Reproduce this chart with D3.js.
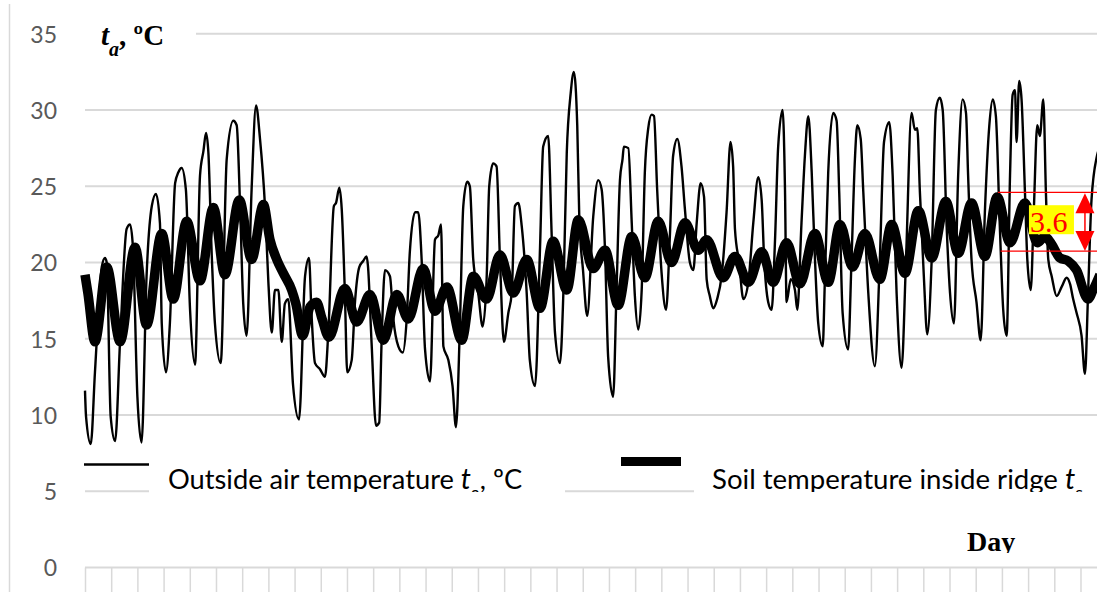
<!DOCTYPE html>
<html><head><meta charset="utf-8">
<script src="https://cdn.jsdelivr.net/npm/d3@7"></script>
<style>html,body{margin:0;padding:0;background:#fff;} svg{display:block}</style>
</head><body><svg id="chart" width="1097" height="592"></svg>
<script>
// ---- data (days since start, °C) ----
const airDays = [0.00,0.04,0.22,0.38,0.64,0.76,0.83,0.98,1.15,1.34,1.59,1.72,1.83,2.00,2.16,2.35,2.55,2.71,2.86,2.93,3.09,3.24,3.44,3.56,3.69,3.85,4.01,4.20,4.39,4.52,4.62,4.71,4.84,4.96,5.18,5.41,5.66,5.79,5.92,6.04,6.17,6.36,6.53,6.68,6.87,7.00,7.13,7.25,7.38,7.51,7.63,7.76,7.94,8.17,8.40,8.55,8.65,8.78,8.97,9.16,9.29,9.50,9.58,9.71,9.80,9.92,10.01,10.18,10.31,10.47,10.62,10.75,10.80,10.94,11.11,11.23,11.32,11.45,11.64,11.77,11.96,12.13,12.28,12.40,12.60,12.72,12.85,12.98,13.17,13.36,13.49,13.59,13.68,13.87,14.03,14.16,14.31,14.44,14.59,14.69,14.82,15.01,15.18,15.33,15.43,15.58,15.71,15.84,15.99,16.16,16.29,16.41,16.54,16.67,16.86,16.98,17.18,17.37,17.49,17.68,17.81,17.94,18.13,18.26,18.39,18.54,18.66,18.79,18.87,19.01,19.17,19.40,19.59,19.72,19.85,19.97,20.16,20.29,20.42,20.52,20.57,20.74,20.87,20.99,21.12,21.25,21.37,21.50,21.63,21.72,21.84,22.01,22.18,22.33,22.45,22.61,22.77,22.90,23.09,23.22,23.35,23.50,23.63,23.73,23.85,23.98,24.13,24.30,24.49,24.64,24.74,24.81,24.97,25.13,25.32,25.51,25.70,25.83,25.92,26.08,26.21,26.34,26.46,26.63,26.72,26.78,26.94,27.10,27.19,27.35,27.48,27.61,27.74,27.86,27.99,28.16,28.24,28.37,28.56,28.69,28.79,28.92,29.13,29.26,29.39,29.48,29.61,29.71,29.90,30.15,30.34,30.50,30.70,30.83,30.98,31.17,31.34,31.55,31.68,31.77,31.87,32.02,32.15,32.32,32.48,32.63,32.74,32.89,33.02,33.17,33.33,33.50,33.63,33.71,33.84,34.03,34.19,34.35,34.52,34.65,34.77,34.92,35.05,35.18,35.31,35.41,35.50,35.56,35.66,35.75,35.88,35.97,36.10,36.22,36.35,36.45,36.58,36.68,36.77,36.90,37.09,37.28,37.47,37.60,37.72,37.85,38.04,38.17,38.29,38.42,38.63,38.74];
const airTemps = [11.6,9.9,8.1,12.8,19.7,20.3,20.0,9.9,8.3,14.9,22.2,22.5,21.0,11.2,8.2,19.1,23.7,24.5,22.6,16.0,12.8,16.0,25.2,25.9,26.2,24.8,16.9,13.3,25.7,27.3,28.5,27.2,20.4,16.0,13.4,26.8,29.3,29.0,23.7,17.3,15.2,24.8,30.3,28.1,23.7,18.7,15.4,18.2,18.2,14.8,17.3,17.6,12.0,9.7,19.1,20.3,16.5,13.4,13.0,12.5,15.5,23.7,23.9,24.9,23.5,18.0,12.8,13.6,17.5,19.7,20.1,20.4,19.8,14.7,9.3,9.5,14.7,19.5,19.1,16.3,14.5,14.1,16.3,20.7,23.3,23.3,20.2,14.3,12.2,21.5,21.8,22.5,14.5,13.6,11.9,9.2,15.8,23.7,25.3,25.0,20.2,18.0,15.8,18.9,25.0,26.5,26.3,20.2,14.8,16.7,18.0,23.7,23.9,22.4,18.0,13.6,11.9,21.0,27.6,28.3,22.0,15.4,13.4,18.0,27.2,31.1,32.5,29.0,22.8,19.5,16.5,23.0,25.4,24.8,20.8,13.8,11.2,18.2,25.4,26.8,27.6,27.5,22.6,17.8,15.6,18.2,25.9,28.8,29.7,29.6,24.8,19.3,16.9,21.9,27.0,28.1,26.3,23.5,20.0,19.5,22.6,25.2,24.3,18.9,17.8,17.0,17.6,19.1,23.3,27.9,26.3,22.2,20.0,17.6,18.7,22.6,25.6,24.1,20.4,17.4,16.9,21.5,27.6,30.0,24.8,17.4,18.9,18.2,16.9,22.6,27.0,29.6,25.9,20.4,16.0,14.5,18.7,25.9,29.8,29.3,24.6,16.7,14.3,20.2,26.8,29.0,28.1,24.6,18.0,13.2,20.2,27.9,29.2,25.7,18.0,13.1,20.2,29.8,28.7,28.8,24.6,19.1,15.3,20.2,30.0,30.8,30.0,22.4,18.0,16.0,25.7,30.7,29.8,25.7,20.2,17.4,14.9,23.3,29.0,30.7,29.6,22.4,16.9,15.2,25.7,31.0,31.3,27.9,31.9,30.7,24.6,20.2,18.2,23.5,29.0,28.3,30.7,24.6,20.2,19.1,17.8,18.4,19.0,18.6,17.6,16.7,15.2,12.7,18.0,24.1,27.0,27.6];
const soilDays = [0.00,0.11,0.38,0.83,1.34,1.91,2.35,2.93,3.37,3.88,4.39,4.90,5.34,5.89,6.36,6.81,7.06,7.32,7.57,7.89,8.05,8.31,8.59,8.84,9.05,9.31,9.92,10.37,10.88,11.39,11.90,12.34,12.91,13.36,13.81,14.38,14.82,15.33,15.84,16.35,16.86,17.37,17.87,18.39,18.83,19.40,19.85,20.35,20.87,21.37,21.88,22.39,22.90,23.41,23.73,24.36,24.81,25.32,25.83,26.27,26.78,27.29,27.86,28.37,28.82,29.30,29.77,30.34,30.79,31.30,31.81,32.32,32.86,33.33,33.84,34.35,34.82,35.31,35.88,36.35,36.64,36.90,37.21,37.53,37.85,38.29,38.48,38.74];
const soilTemps = [19.2,18.0,14.8,19.7,14.8,21.0,15.9,21.9,17.6,22.7,18.8,23.6,19.2,24.1,20.2,23.8,21.5,20.2,19.3,18.2,17.3,15.2,17.1,17.4,16.3,15.1,18.3,16.1,17.9,14.9,17.9,16.3,19.6,16.8,18.4,14.9,19.1,17.6,20.5,18.0,20.2,17.0,21.4,18.2,22.8,19.6,20.8,17.2,21.7,19.0,22.7,20.0,22.6,20.8,21.5,19.0,20.4,18.7,20.7,18.7,21.3,18.6,21.9,18.7,22.5,19.7,21.9,18.9,22.5,19.3,23.4,20.3,24.0,20.6,23.9,20.4,24.3,21.3,23.9,21.3,21.7,21.2,20.3,20.1,19.5,17.6,18.2,19.2];
const yTickValues = [0, 5, 10, 15, 20, 25, 30, 35];
const dayTicks = d3.range(0, 39);
const legendLabels = ["Outside air temperature ", "Soil temperature inside ridge "];
const legendSubs = ["a", "s"];
const legendSuffixes = [", ºC", ""];
const xAxisTitle = "Day";
const rangeTop = 24.6, rangeBottom = 20.75, rangeLabel = "3.6";
const rangeStartDays = [34.85, 34.95], rangeArrowDay = 38.17;

// ---- setup ----
const W = 1097, H = 592;
const svg = d3.select("#chart");
svg.append("rect").attr("width", W).attr("height", H).attr("fill", "#fff");
const x = d3.scaleLinear().domain([0, 38.63]).range([85, 1097]);
const y = d3.scaleLinear().domain([0, 35]).range([567.5, 33.75]);
const grid = "#d9d9d9";

// chart border (left)
svg.append("line").attr("x1", 9.5).attr("x2", 9.5).attr("y1", 4).attr("y2", H)
  .attr("stroke", grid).attr("stroke-width", 1.5);

// gridlines
svg.append("g").selectAll("line").data(yTickValues).join("line")
  .attr("x1", 85).attr("x2", W).attr("y1", d => y(d)).attr("y2", d => y(d))
  .attr("stroke", grid).attr("stroke-width", 2);

// x axis ticks
const xAxis = d3.axisBottom(x).tickValues(dayTicks).tickSize(26).tickFormat("");
const gx = svg.append("g").attr("transform", `translate(0,${y(0)})`).call(xAxis);
gx.select(".domain").remove();
gx.selectAll(".tick line").attr("stroke", grid).attr("stroke-width", 1.5);

// y axis labels
const yAxis = d3.axisLeft(y).tickValues(yTickValues).tickSize(0).tickPadding(0);
const gy = svg.append("g").attr("transform", "translate(57,0)").call(yAxis);
gy.select(".domain").remove();
gy.selectAll(".tick text").attr("font-family", "Lato, 'Open Sans', sans-serif")
  .attr("font-size", 23).attr("fill", "#595959").attr("dy", "0.36em");

// white boxes (title & legend) hiding gridlines
svg.append("rect").attr("x", 78).attr("y", 12).attr("width", 118).attr("height", 48).attr("fill", "#fff");
svg.append("rect").attr("x", 149).attr("y", 448).attr("width", 416).attr("height", 50).attr("fill", "#fff");
svg.append("rect").attr("x", 694).attr("y", 448).attr("width", 410).attr("height", 50).attr("fill", "#fff");

// data lines
const line = d3.line().x(d => x(d[0])).y(d => y(d[1])).curve(d3.curveMonotoneX);
svg.append("path").datum(d3.zip(airDays, airTemps)).attr("d", line)
  .attr("fill", "none").attr("stroke", "#000").attr("stroke-width", 2.4).attr("stroke-linejoin", "round");
svg.append("path").datum(d3.zip(soilDays, soilTemps)).attr("d", line)
  .attr("fill", "none").attr("stroke", "#000").attr("stroke-width", 9.5).attr("stroke-linejoin", "round");

// y title
const yt = svg.append("text").attr("x", 101).attr("y", 45)
  .attr("font-family", "'Liberation Serif', 'Times New Roman', serif").attr("font-weight", "bold").attr("font-size", 29);
yt.append("tspan").attr("font-style", "italic").text("t");
yt.append("tspan").attr("font-style", "italic").attr("font-size", 20).attr("dy", 11).text("a");
yt.append("tspan").attr("dy", -11).text(", ºC");

// x title (clipped at baseline)
const defs = svg.append("defs");
defs.append("clipPath").attr("id", "dayClip").append("rect").attr("x", 0).attr("y", 0).attr("width", W).attr("height", 553);
defs.append("clipPath").attr("id", "legClip").append("rect").attr("x", 0).attr("y", 0).attr("width", W).attr("height", 492);
svg.append("text").attr("x", 967).attr("y", 551).attr("clip-path", "url(#dayClip)")
  .attr("font-family", "'Liberation Serif', 'Times New Roman', serif").attr("font-weight", "bold").attr("font-size", 28)
  .text(xAxisTitle);

// legend
const legFont = "Lato, 'Open Sans', sans-serif";
function fitFont(str, base, target) {
  const t = svg.append("text").attr("font-family", legFont).attr("font-size", base).text(str);
  const w = t.node().getComputedTextLength(); t.remove();
  return base * target / w;
}
const fs1 = fitFont(legendLabels[0].trim(), 28, 286);
const fs2 = fitFont(legendLabels[1].trim(), 28, 346);
svg.append("line").attr("x1", 84).attr("x2", 149).attr("y1", 464.5).attr("y2", 464.5).attr("stroke", "#000").attr("stroke-width", 2.4);
svg.append("line").attr("x1", 621).attr("x2", 681).attr("y1", 461.5).attr("y2", 461.5).attr("stroke", "#000").attr("stroke-width", 9);
function legendText(x0, label, sub, fs, suffix) {
  const t = svg.append("text").attr("x", x0).attr("y", 489).attr("clip-path", "url(#legClip)")
    .attr("font-family", legFont).attr("font-size", fs).attr("fill", "#000");
  t.append("tspan").text(label);
  t.append("tspan").attr("font-style", "italic").attr("font-size", fs * 1.05).text("t");
  t.append("tspan").attr("font-size", fs * 0.65).attr("dy", fs * 0.35).text(sub);
  if (suffix) t.append("tspan").attr("dy", -fs * 0.35).text(suffix);
}
legendText(168, legendLabels[0], legendSubs[0], fs1, legendSuffixes[0]);
legendText(712, legendLabels[1], legendSubs[1], fs2, legendSuffixes[1]);

// range annotation
const red = "#ff0000";
svg.append("line").attr("x1", x(rangeStartDays[0])).attr("x2", W).attr("y1", y(rangeTop)).attr("y2", y(rangeTop)).attr("stroke", red).attr("stroke-width", 1.3);
svg.append("line").attr("x1", x(rangeStartDays[1])).attr("x2", W).attr("y1", y(rangeBottom)).attr("y2", y(rangeBottom)).attr("stroke", red).attr("stroke-width", 1.3);
const ax = x(rangeArrowDay), yTop = y(rangeTop), yBot = y(rangeBottom);
svg.append("line").attr("x1", ax).attr("x2", ax).attr("y1", yTop + 10).attr("y2", yBot - 10).attr("stroke", red).attr("stroke-width", 1.5);
svg.append("path").attr("d", `M${ax},${yTop + 1}L${ax - 9.5},${yTop + 21}L${ax + 9.5},${yTop + 21}Z`).attr("fill", red);
svg.append("path").attr("d", `M${ax},${yBot}L${ax - 9.5},${yBot - 20}L${ax + 9.5},${yBot - 20}Z`).attr("fill", red);
const labelCy = (yTop + yBot) / 2;
svg.append("rect").attr("x", ax - 56).attr("y", labelCy - 16.5).attr("width", 45).attr("height", 29).attr("fill", "#ffff00");
svg.append("text").attr("x", ax - 55).attr("y", labelCy + 10.5)
  .attr("font-family", "'Liberation Serif', 'Times New Roman', serif").attr("font-size", 30).attr("fill", red)
  .text(rangeLabel);
</script></body></html>
